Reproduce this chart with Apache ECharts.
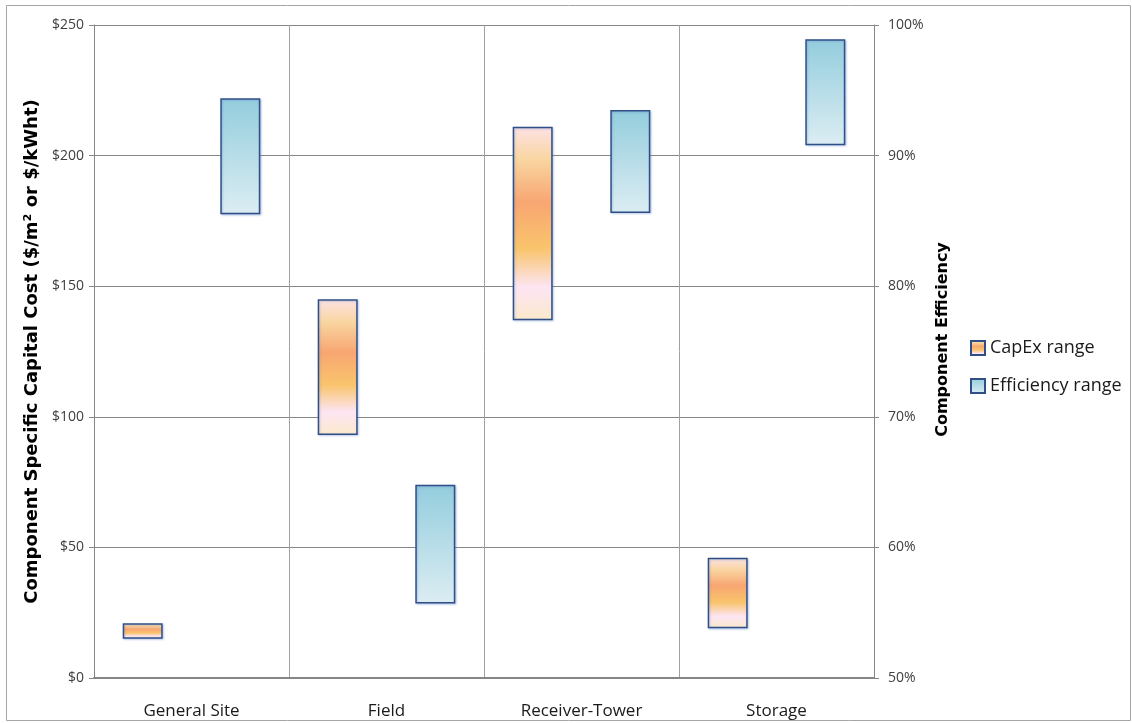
<!DOCTYPE html>
<html>
<head>
<meta charset="utf-8">
<script src="https://cdn.jsdelivr.net/npm/echarts/dist/echarts.min.js"></script>
<style>
  html, body { margin: 0; padding: 0; background: #ffffff; }
  #chart { width: 1132px; height: 723px; }
</style>
</head>
<body>
<div id="chart"></div>
<script>
// Components of a CSP tower plant
const categories = ['General Site', 'Field', 'Receiver-Tower', 'Storage'];

// Specific capital cost range ($/m² or $/kWht)
const capexLow  = [15, 93, 137, 19];
const capexHigh = [21, 145, 211, 46];

// Component efficiency range (%)
const effLow  = [85.5, 55.7, 85.6, 90.8];
const effHigh = [94.4, 64.8, 93.5, 98.9];

const FONT = "'Open Sans', sans-serif";
const TITLE_FONT = "'DejaVu Sans', sans-serif";
const AXIS_GREY = '#868686';
const EDGE = '#2f4f86';

const capexFill = new echarts.graphic.LinearGradient(0, 0, 0, 1, [
  { offset: 0.00, color: '#fde2e4' },
  { offset: 0.17, color: '#f9d5a0' },
  { offset: 0.39, color: '#f8a672' },
  { offset: 0.63, color: '#f9c46c' },
  { offset: 0.83, color: '#fde5f3' },
  { offset: 1.00, color: '#fae9cb' }
]);
const effFill = new echarts.graphic.LinearGradient(0, 0, 0, 1, [
  { offset: 0, color: '#93cddd' },
  { offset: 1, color: '#dcedf3' }
]);

const rangeStyle = (fill) => ({
  color: fill,
  borderColor: EDGE,
  borderWidth: 1.5,
  shadowColor: 'rgba(90,130,200,0.35)',
  shadowBlur: 2,
  shadowOffsetX: 1,
  shadowOffsetY: 1
});

const chart = echarts.init(document.getElementById('chart'), null, { renderer: 'canvas' });

chart.setOption({
  animation: false,
  backgroundColor: '#ffffff',
  graphic: [{
    type: 'rect',
    shape: { x: 6.5, y: 5.5, width: 1124, height: 715 },
    style: { fill: 'none', stroke: '#a6a6a6', lineWidth: 1 },
    silent: true,
    z: -1
  }],
  grid: { left: 94, right: 258, top: 25, bottom: 45, containLabel: false },
  legend: {
    data: ['CapEx range', 'Efficiency range'],
    orient: 'vertical',
    left: 965,
    top: 334,
    itemWidth: 14,
    itemHeight: 14,
    itemGap: 20,
    icon: 'rect',
    textStyle: { fontFamily: FONT, fontSize: 18, color: '#1a1a1a' }
  },
  xAxis: {
    type: 'category',
    data: categories,
    boundaryGap: true,
    axisLine: { lineStyle: { color: AXIS_GREY, width: 2 } },
    axisTick: { show: false },
    splitLine: { show: true, lineStyle: { color: '#a0a0a0', width: 1 } },
    axisLabel: { fontFamily: FONT, fontSize: 17, color: '#1a1a1a', margin: 25 }
  },
  yAxis: [{
    type: 'value',
    position: 'left',
    min: 0, max: 250, interval: 50,
    name: 'Component Specific Capital Cost ($/m² or $/kWht)',
    nameLocation: 'middle',
    nameGap: 52,
    nameTextStyle: { fontFamily: TITLE_FONT, fontWeight: 'bold', fontSize: 18, color: '#000' },
    axisLine: { show: true, lineStyle: { color: AXIS_GREY, width: 1 } },
    axisTick: { show: true, length: 5, lineStyle: { color: AXIS_GREY } },
    axisLabel: { formatter: '${value}', fontFamily: FONT, fontSize: 14, color: '#404040', margin: 10 },
    splitLine: { show: true, lineStyle: { color: AXIS_GREY, width: 1 } }
  }, {
    type: 'value',
    position: 'right',
    min: 50, max: 100, interval: 10,
    name: 'Component Efficiency',
    nameLocation: 'middle',
    nameGap: 58,
    nameRotate: 90,
    nameTextStyle: {
      fontFamily: TITLE_FONT, fontWeight: 'bold', fontSize: 16, color: '#000',
      padding: [0, 0, 0, 24]
    },
    axisLine: { show: true, lineStyle: { color: AXIS_GREY, width: 1 } },
    axisTick: { show: true, length: 5, lineStyle: { color: AXIS_GREY } },
    axisLabel: { formatter: '{value}%', fontFamily: FONT, fontSize: 14, color: '#404040', margin: 14 },
    splitLine: { show: false }
  }],
  series: [{
    name: 'capexBase',
    type: 'bar',
    stack: 'capex',
    yAxisIndex: 0,
    data: capexLow,
    barWidth: 40,
    barGap: '144%',
    itemStyle: { color: 'transparent' },
    silent: true
  }, {
    name: 'CapEx range',
    type: 'bar',
    stack: 'capex',
    yAxisIndex: 0,
    data: capexHigh.map((h, i) => h - capexLow[i]),
    barWidth: 40,
    itemStyle: rangeStyle(capexFill)
  }, {
    name: 'effBase',
    type: 'bar',
    stack: 'eff',
    yAxisIndex: 1,
    data: effLow,
    barWidth: 40,
    barGap: '144%',
    itemStyle: { color: 'transparent' },
    silent: true
  }, {
    name: 'Efficiency range',
    type: 'bar',
    stack: 'eff',
    yAxisIndex: 1,
    data: effHigh.map((h, i) => h - effLow[i]),
    barWidth: 40,
    itemStyle: rangeStyle(effFill)
  }]
});
</script>
</body>
</html>
